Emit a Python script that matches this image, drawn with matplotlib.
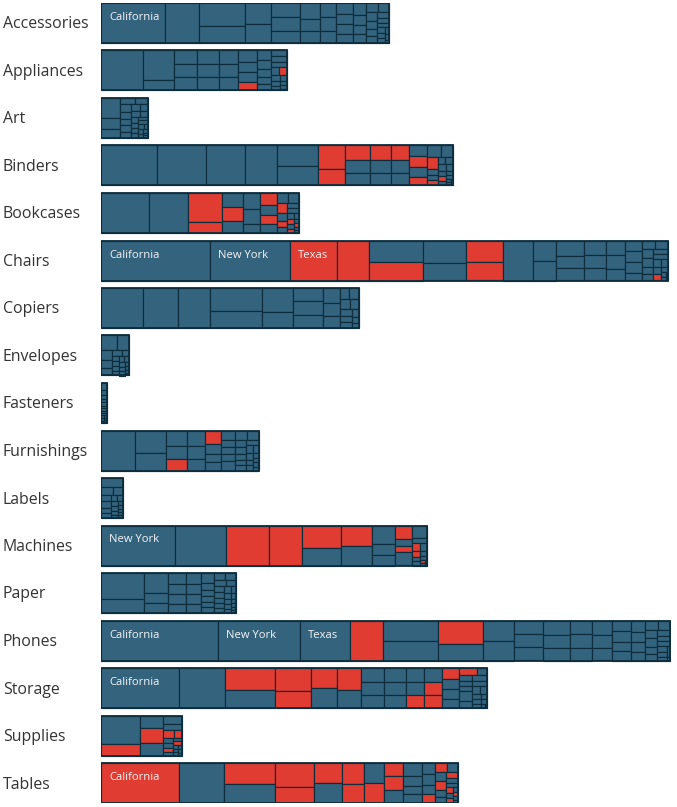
import matplotlib
matplotlib.use("Agg")
import matplotlib.pyplot as plt
from matplotlib.patches import Rectangle

# ---------------- data (relative sales per state, largest first) ----------------
categories = ["Accessories", "Appliances", "Art", "Binders", "Bookcases", "Chairs",
              "Copiers", "Envelopes", "Fasteners", "Furnishings", "Labels", "Machines",
              "Paper", "Phones", "Storage", "Supplies", "Tables"]

accessories_sales = [64, 34, 26.1, 19.9, 13.5, 12.5, 10.2, 10.0, 8.7, 8.1, 6.2, 5.9, 5.8, 5.25,
                     5.0, 4.7, 4.0, 3.9, 3.9, 3.8, 3.4, 2.9, 2.9, 2.8, 2.6, 2.4, 2.2, 2.0, 1.9,
                     1.8, 1.6, 1.4, 1.2, 1.0, 0.9, 0.8, 0.6, 0.4]
accessories_loss = []

appliances_sales = [42.3, 23.1, 7.9, 7.8, 7.6, 7.6, 7.3, 7.1, 7.1, 6.3, 6.2, 6.2, 5.4, 4.9, 4.8,
                    4.3, 3.4, 3.3, 2.7, 2.5, 2.5, 2.2, 2.1, 1.9, 1.6, 1.4, 1.4, 1.2, 1.0, 0.9,
                    0.7, 0.5, 0.3]
appliances_loss = [15, 25]

art_sales = [9.7, 5.3, 4.3, 2.3, 2.0, 2.0, 1.9, 1.7, 1.7, 1.6, 1.5, 1.4, 1.3, 1.2, 1.1, 1.0,
             1.0, 0.9, 0.8, 0.8, 0.7, 0.6, 0.6, 0.5, 0.4, 0.3, 0.3]
art_loss = []

binders_sales = [56.3, 49, 39, 32, 21.0, 20.0, 16.2, 10.8, 9.0, 8.3, 7.7, 7.5, 7.0, 6.5, 6.5,
                 6.0, 5.5, 4.9, 4.8, 4.6, 3.7, 3.7, 3.4, 3.3, 1.6, 1.5, 1.4, 1.4, 1.4, 1.2,
                 1.1, 1.0, 1.0, 0.9, 0.8, 0.6, 0.5, 0.4, 0.3]
binders_loss = [6, 7, 8, 11, 14, 18, 20, 23, 26, 32]

bookcases_sales = [48.3, 39, 24.7, 9.3, 7.35, 7.35, 6.3, 6.8, 6.4, 3.8, 4.9, 4.1, 3.7, 3.7,
                   3.0, 2.9, 2.6, 2.0, 1.8, 1.5, 1.5, 1.2, 1.0, 0.9, 0.8, 0.8, 0.7, 0.6, 0.5,
                   0.4, 0.4]
bookcases_loss = [2, 3, 5, 10, 12, 16, 18, 24, 26, 28]

chairs_sales = [109.3, 80, 46.4, 31.8, 29.4, 24.7, 24.6, 18.7, 19.6, 17.1, 30.3, 11.7, 11.3,
                10.7, 8.7, 8.7, 7.7, 7.2, 7.0, 6.8, 6.8, 5.7, 4.5, 4.5, 4.3, 3.3, 2.9, 2.7,
                2.6, 2.5, 2.0, 2.0, 1.9, 1.8, 1.5, 1.4, 1.3, 1.1, 0.9, 0.7, 0.5, 0.3]
chairs_loss = [2, 3, 5, 8, 9, 37]

copiers_sales = [42.3, 35, 32, 29.3, 22.7, 18.3, 12.7, 10, 10, 10, 6.5, 5.2, 5.1, 2.5, 2.5,
                 2.5, 2.3, 2.0, 1.9, 1.6, 1.4, 1.1, 0.9]
copiers_loss = []

envelopes_sales = [5.5, 4.5, 2.8, 2.1, 2.0, 1.5, 1.1, 1.0, 1.0, 0.9, 0.9, 0.8, 0.8, 0.7, 0.6,
                   0.6, 0.5, 0.4, 0.3, 0.3]
envelopes_loss = []

fasteners_sales = [0.95, 0.75, 0.6, 0.5, 0.45, 0.4, 0.35, 0.3, 0.3, 0.25, 0.2, 0.2, 0.15, 0.15,
                   0.1, 0.1]
fasteners_loss = []

furnishings_sales = [34.3, 17.8, 13.2, 7.9, 6.8, 6.3, 6.75, 5.85, 5.4, 5.2, 4.0, 3.5, 3.3, 3.25,
                     2.3, 2.25, 2.2, 3.2, 3.0, 2.9, 2.0, 1.8, 1.7, 1.6, 1.5, 1.5, 1.4, 1.35,
                     1.2, 1.0, 0.9, 0.8, 0.7, 0.6, 0.4, 0.3]
furnishings_loss = [5, 9]

labels_sales = [5.0, 2.4, 1.9, 1.6, 1.6, 1.3, 1.2, 1.1, 1.0, 0.9, 0.8, 0.7, 0.6, 0.5, 0.5, 0.4,
                0.3, 0.3, 0.2]
labels_loss = []

machines_sales = [74.3, 51, 43, 33, 22.2, 16.8, 15.5, 15.2, 10.9, 6.3, 6.1, 5.3, 3.0, 2.7, 5.3,
                  4.7, 2.1, 1.7, 1.4, 1.2, 1.0, 0.9, 0.8, 0.6, 0.4, 0.3, 0.3]
machines_loss = [2, 3, 4, 6, 11, 13, 17, 19, 24]

paper_sales = [28.2, 15.2, 12, 6, 6, 4.8, 4.6, 4.5, 4.05, 4.0, 3.9, 3.75, 3.4, 3.1, 2.3, 2.0,
               1.9, 1.9, 1.8, 1.8, 1.8, 1.8, 1.6, 1.5, 1.4, 1.3, 1.3, 1.2, 1.1, 1.0, 1.0, 0.9,
               0.8, 0.8, 0.7, 0.6, 0.5, 0.4, 0.3, 0.2]
paper_loss = []

phones_sales = [117, 82.3, 49.2, 33.7, 28.5, 26.7, 26.2, 17.9, 16.1, 15.0, 10.0, 9.7, 9.7, 9.6,
                8.7, 8.5, 7.7, 7.5, 7.1, 6.9, 6.4, 6.1, 5.4, 5.1, 4.7, 4.5, 3.8, 3.5, 3.5, 3.0,
                3.0, 2.8, 2.6, 2.5, 2.2, 2.0, 2.0, 1.8, 1.6, 1.4, 1.2, 1.0, 0.8, 0.3]
phones_loss = [3, 6]

storage_sales = [78.3, 45.7, 27.7, 22.6, 20.7, 15.3, 13, 13, 12.9, 10.5, 8.3, 7.7, 7.7, 7.7,
                 7.15, 7.15, 6.3, 5.85, 5.85, 6.3, 5.85, 5.85, 4.7, 4.25, 4.25, 3.8, 3.2, 1.8,
                 1.8, 1.75, 1.4, 3.2, 2.4, 2.0, 1.8, 1.6, 1.4, 1.2, 1.1, 1.0, 0.8, 0.6, 0.4, 0.2]
storage_loss = [2, 4, 5, 6, 8, 18, 20, 21, 22, 26]

supplies_sales = [27.9, 11.4, 7.5, 8.3, 7.3, 4.0, 2.7, 2.0, 1.5, 1.2, 1.0, 0.9, 0.9, 0.8, 0.7,
                  0.6, 0.5, 0.5, 0.4, 0.3, 0.2]
supplies_loss = [1, 3, 7, 8, 11, 14]

tables_sales = [78.3, 44.4, 26.4, 24.6, 23.4, 16.2, 13.8, 14.2, 11.4, 10.6, 9.75, 9.75, 6.5,
                6.65, 6.5, 5.9, 4.7, 4.1, 4.1, 3.4, 3.4, 3.05, 2.8, 2.7, 2.7, 2.5, 2.4, 2.0, 1.8,
                1.6, 1.5, 1.2, 1.0, 0.9, 0.8, 0.7, 0.6, 0.5, 0.4]
tables_loss = [0, 2, 4, 5, 6, 8, 9, 11, 12, 13, 22, 23, 26, 29, 32, 34, 36]

labeled_states = {
    "Accessories": ["California"],
    "Chairs": ["California", "New York", "Texas"],
    "Machines": ["New York"],
    "Phones": ["California", "New York", "Texas"],
    "Storage": ["California"],
    "Tables": ["California"],
}

sales = [accessories_sales, appliances_sales, art_sales, binders_sales, bookcases_sales,
         chairs_sales, copiers_sales, envelopes_sales, fasteners_sales, furnishings_sales,
         labels_sales, machines_sales, paper_sales, phones_sales, storage_sales,
         supplies_sales, tables_sales]
losses = [accessories_loss, appliances_loss, art_loss, binders_loss, bookcases_loss,
          chairs_loss, copiers_loss, envelopes_loss, fasteners_loss, furnishings_loss,
          labels_loss, machines_loss, paper_loss, phones_loss, storage_loss,
          supplies_loss, tables_loss]

# ---------------- style ----------------
BLUE = "#34637e"
RED = "#e03c32"
EDGE = "#0d2d3c"
TEXT = "#333333"
ASPECT_SCALE = 1.55     # treemap squareness is judged on a horizontally compressed grid
ORIENT = 0.725          # strips are vertical while width >= ORIENT * height


def _worst(areas, length, vertical):
    s = sum(areas)
    thick = s / length
    worst = 0
    for a in areas:
        l = a / thick
        if vertical:
            r = thick / (ASPECT_SCALE * l)
        else:
            r = l / (ASPECT_SCALE * thick)
        worst = max(worst, r, 1 / r)
    return worst


def squarify(areas, x, y, w, h):
    rects = []
    items = list(areas)
    while items:
        vertical = w >= ORIENT * h
        length = h if vertical else w
        row = [items[0]]
        i = 1
        while i < len(items):
            if _worst(row + [items[i]], length, vertical) <= _worst(row, length, vertical):
                row.append(items[i])
                i += 1
            else:
                break
        items = items[i:]
        s = sum(row)
        if vertical:
            cw = s / h
            yy = y
            for a in row:
                ch = a / cw
                rects.append((x, yy, cw, ch))
                yy += ch
            x += cw
            w -= cw
        else:
            rh = s / w
            xx = x
            for a in row:
                cwid = a / rh
                rects.append((xx, y, cwid, rh))
                xx += cwid
            y += rh
            h -= rh
    return rects


fig = plt.figure(figsize=(6.77, 8.07), dpi=100)
ax = fig.add_axes([101 / 677, 4 / 807, 570 / 677, 800 / 807])
ax.set_xlim(0, 570)
ax.set_ylim(800, 0)
ax.axis("off")

ROW_PITCH = 47.5
BAR_H = 40.0

for i, (cat, vals, loss) in enumerate(zip(categories, sales, losses)):
    top = i * ROW_PITCH
    total = sum(vals)
    rects = squarify([v * BAR_H for v in vals], 0.0, top, total, BAR_H)
    for j, (rx, ry, rw, rh) in enumerate(rects):
        ax.add_patch(Rectangle((rx, ry), rw, rh, facecolor=RED if j in loss else BLUE,
                               edgecolor=EDGE, linewidth=0.85))
    ax.add_patch(Rectangle((0, top), total, BAR_H, facecolor="none", edgecolor=EDGE,
                           linewidth=1.3, zorder=3))
    for j, name in enumerate(labeled_states.get(cat, [])):
        rx, ry, rw, rh = rects[j]
        ax.text(rx + 8, ry + 14.5, name, color="#f4f4f4", fontsize=8.1, family="Open Sans",
                ha="left", va="center", zorder=4)
    ax.text(-98, top + 21.5, cat, color=TEXT, fontsize=11.4, family="Open Sans",
            ha="left", va="center", clip_on=False)

fig.savefig("out.png", dpi=100)
